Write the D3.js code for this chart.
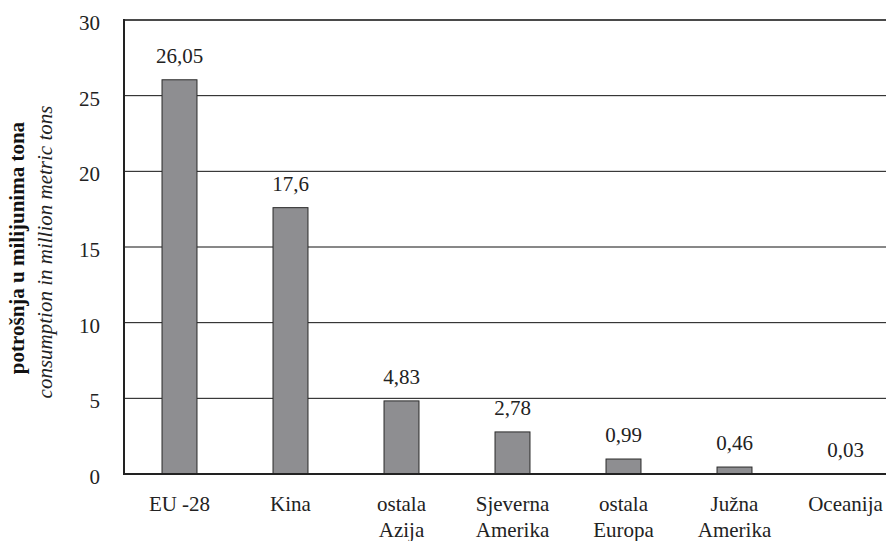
<!DOCTYPE html>
<html>
<head>
<meta charset="utf-8">
<script src="https://cdn.jsdelivr.net/npm/d3@7"></script>
<style>
  html, body { margin: 0; padding: 0; background: #fff; }
  svg { display: block; }
</style>
</head>
<body>
<svg id="chart" width="886" height="541"></svg>
<script>
// Regional consumption, million metric tons
const categories = [
  ["EU -28"],
  ["Kina"],
  ["ostala", "Azija"],
  ["Sjeverna", "Amerika"],
  ["ostala", "Europa"],
  ["Južna", "Amerika"],
  ["Oceanija"]
];
const values = [26.05, 17.6, 4.83, 2.78, 0.99, 0.46, 0.03];
const valueLabels = ["26,05", "17,6", "4,83", "2,78", "0,99", "0,46", "0,03"];
const yTicks = [0, 5, 10, 15, 20, 25, 30];
const titleBold = "potrošnja u milijunima tona";
const titleItalic = "consumption in million metric tons";

(function () {
  const svg = d3.select("#chart");
  const plotLeft = 124, plotRight = 901, plotTop = 20, plotBottom = 474;
  const fontSize = 21;
  const serif = "Liberation Serif";

  const x = d3.scaleBand()
    .domain(d3.range(values.length))
    .range([plotLeft, plotRight])
    .paddingInner(0.685)
    .paddingOuter(0.3425);

  const y = d3.scaleLinear().domain([0, 30]).range([plotBottom, plotTop]);

  // horizontal gridlines
  svg.append("g").selectAll("line")
    .data(yTicks.filter(t => t > 0 && t < 30))
    .join("line")
    .attr("x1", plotLeft).attr("x2", 886)
    .attr("y1", d => y(d)).attr("y2", d => y(d))
    .attr("stroke", "#111").attr("stroke-width", 1);

  // top border
  svg.append("line")
    .attr("x1", plotLeft).attr("x2", 886)
    .attr("y1", y(30)).attr("y2", y(30))
    .attr("stroke", "#4a4a4a").attr("stroke-width", 2);

  // y axis tick labels
  const yAxis = d3.axisLeft(y).tickValues(yTicks).tickSize(0).tickPadding(24).tickFormat(d3.format("d"));
  const gy = svg.append("g").attr("transform", `translate(${plotLeft},0)`).call(yAxis);
  gy.select(".domain").remove();
  gy.attr("font-family", null).attr("font-size", null);
  gy.selectAll("text")
    .style("font-family", serif)
    .style("font-size", fontSize + "px")
    .attr("fill", "#222")
    .attr("dy", "0.45em");

  // bars
  svg.append("g").selectAll("rect")
    .data(values)
    .join("rect")
    .attr("x", (d, i) => x(i))
    .attr("width", x.bandwidth())
    .attr("y", d => y(d))
    .attr("height", d => y(0) - y(d))
    .attr("fill", "#8e8e91")
    .attr("stroke", "#2a2a2a")
    .attr("stroke-width", 1);

  // value labels
  svg.append("g").selectAll("text")
    .data(values)
    .join("text")
    .attr("x", (d, i) => x(i) + x.bandwidth() / 2)
    .attr("y", d => y(d) - 17)
    .attr("text-anchor", "middle")
    .style("font-family", serif)
    .style("font-size", fontSize + "px")
    .attr("fill", "#222")
    .text((d, i) => valueLabels[i]);

  // axis lines
  svg.append("line")
    .attr("x1", plotLeft).attr("x2", plotLeft)
    .attr("y1", y(30) - 1).attr("y2", y(0) + 1)
    .attr("stroke", "#222").attr("stroke-width", 2);
  svg.append("line")
    .attr("x1", plotLeft - 1).attr("x2", 886)
    .attr("y1", y(0)).attr("y2", y(0))
    .attr("stroke", "#222").attr("stroke-width", 2);

  // category labels
  const cat = svg.append("g").selectAll("text")
    .data(categories)
    .join("text")
    .attr("x", (d, i) => x(i) + x.bandwidth() / 2)
    .attr("y", 511)
    .attr("text-anchor", "middle")
    .style("font-family", serif)
    .style("font-size", fontSize + "px")
    .attr("fill", "#222");
  cat.selectAll("tspan")
    .data(d => d)
    .join("tspan")
    .attr("x", function () { return d3.select(this.parentNode).attr("x"); })
    .attr("dy", (d, j) => j === 0 ? 0 : 26)
    .text(d => d);

  // y axis titles
  svg.append("text")
    .attr("transform", "translate(24,248) rotate(-90)")
    .attr("text-anchor", "middle")
    .style("font-family", serif)
    .style("font-size", fontSize + "px")
    .style("font-weight", "bold")
    .attr("fill", "#111")
    .text(titleBold);
  svg.append("text")
    .attr("transform", "translate(52,252) rotate(-90)")
    .attr("text-anchor", "middle")
    .style("font-family", serif)
    .style("font-size", fontSize + "px")
    .style("font-style", "italic")
    .attr("fill", "#222")
    .text(titleItalic);
})();
</script>
</body>
</html>
